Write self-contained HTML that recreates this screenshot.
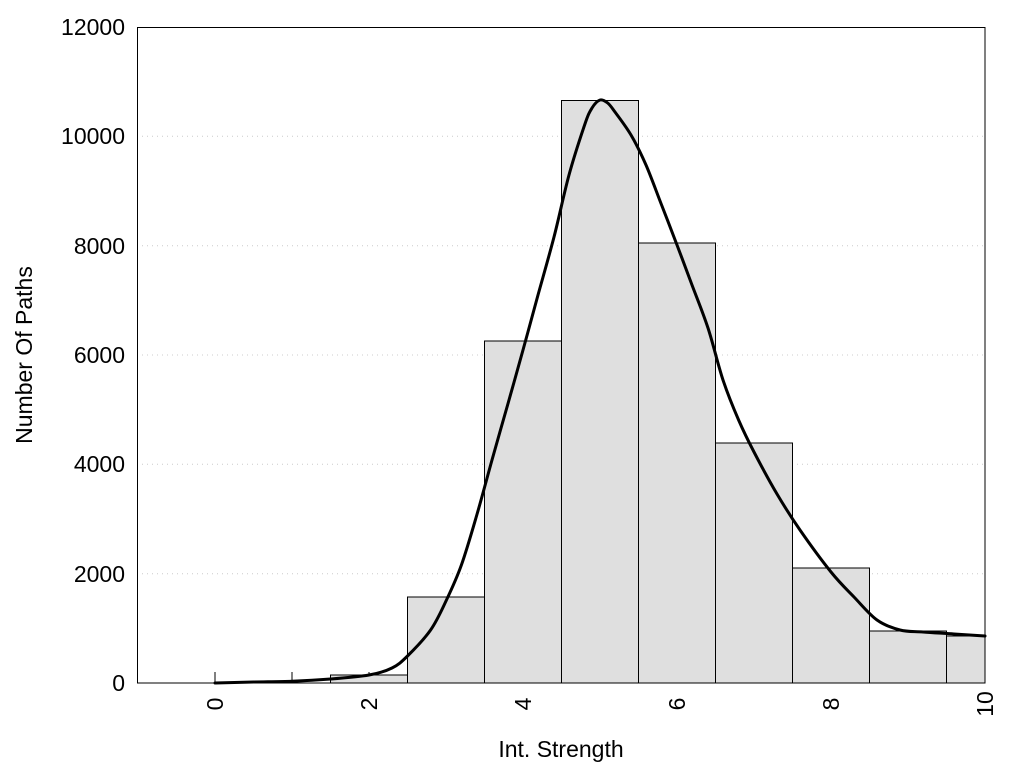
<!DOCTYPE html>
<html><head><meta charset="utf-8"><style>
html,body{margin:0;padding:0;background:#fff;}
svg{display:block;font-family:"Liberation Sans",Arial,sans-serif;}
</style></head><body>
<svg width="1024" height="768" viewBox="0 0 1024 768">
<rect width="1024" height="768" fill="#fff"/>
<g stroke="#ccc" stroke-width="1" stroke-dasharray="1,4">
<line x1="137" y1="573.7" x2="985" y2="573.7"/>
<line x1="137" y1="464.3" x2="985" y2="464.3"/>
<line x1="137" y1="355" x2="985" y2="355"/>
<line x1="137" y1="245.7" x2="985" y2="245.7"/>
<line x1="137" y1="136.3" x2="985" y2="136.3"/>
</g>
<g stroke="#000" stroke-width="1">
<line x1="215" y1="672" x2="215" y2="683"/>
<line x1="292" y1="672" x2="292" y2="683"/>
<line x1="369" y1="672" x2="369" y2="683"/>
</g>
<g fill="#dfdfdf" stroke="#000" stroke-width="1">
<rect x="330.5" y="675" width="77" height="8"/>
<rect x="407.5" y="597" width="77" height="86"/>
<rect x="484.5" y="341" width="77" height="342"/>
<rect x="561.5" y="100.5" width="77" height="582.5"/>
<rect x="638.5" y="243" width="77" height="440"/>
<rect x="715.5" y="443" width="77" height="240"/>
<rect x="792.5" y="568" width="77" height="115"/>
<rect x="869.5" y="631" width="77" height="52"/>
<rect x="946.5" y="636" width="38.5" height="47"/>
</g>
<path id="curve" fill="none" stroke="#000" stroke-width="3" stroke-linejoin="round" stroke-linecap="round" d="M215,683 C292,681 340,679 369,675 C400,665 420,640 446,600 C470,560 490,460 523,350 C550,260 570,110 600,100 C625,95 650,180 677,245 C700,300 710,360 740,420 C780,500 820,570 877,618 C910,640 940,630 985,636"/>
<rect x="137.5" y="27.5" width="847.5" height="655.5" fill="none" stroke="#000" stroke-width="1"/>
<g font-size="23" text-anchor="end" fill="#000">
<text x="125" y="691">0</text>
<text x="125" y="582">2000</text>
<text x="125" y="472">4000</text>
<text x="125" y="363">6000</text>
<text x="125" y="254">8000</text>
<text x="125" y="144">10000</text>
<text x="125" y="35">12000</text>
</g>
<g font-size="23" text-anchor="middle" fill="#000">
<text transform="translate(223,704) rotate(-90)" text-anchor="middle">0</text>
<text transform="translate(377,704) rotate(-90)" text-anchor="middle">2</text>
<text transform="translate(531,704) rotate(-90)" text-anchor="middle">4</text>
<text transform="translate(685,704) rotate(-90)" text-anchor="middle">6</text>
<text transform="translate(839,704) rotate(-90)" text-anchor="middle">8</text>
<text transform="translate(993,704) rotate(-90)" text-anchor="middle">10</text>
<text x="561" y="757">Int. Strength</text>
<text transform="translate(32,355) rotate(-90)" text-anchor="middle">Number Of Paths</text>
</g>
</svg>
<script>
(function(){
var pts=[[215,683],[253.5,682],[292,681.2],[330.5,679],[369,675],[392,668],[407.5,656],[430.6,630],[446,601],[461.4,565],[476.8,515],[492,460],[507.6,405],[523,350],[538,295],[554,237],[569,175],[584.6,125],[592,108],[600,100],[607.7,103],[615,112],[631,135],[646,165],[661.6,205],[677,245],[692,285],[708,328],[723,380],[738.6,420],[754,452],[777,494],[800,530],[831,572],[854,597],[877,620],[900,630],[923,632],[954,634],[985,636]];
var d="M"+pts[0][0]+","+pts[0][1];
for(var i=0;i<pts.length-1;i++){
var p0=pts[i-1]||pts[i],p1=pts[i],p2=pts[i+1],p3=pts[i+2]||p2;
var c1x=p1[0]+(p2[0]-p0[0])/6,c1y=p1[1]+(p2[1]-p0[1])/6;
var c2x=p2[0]-(p3[0]-p1[0])/6,c2y=p2[1]-(p3[1]-p1[1])/6;
d+=" C"+c1x.toFixed(1)+","+c1y.toFixed(1)+" "+c2x.toFixed(1)+","+c2y.toFixed(1)+" "+p2[0]+","+p2[1];
}
document.getElementById("curve").setAttribute("d",d);
})();
</script>
</body></html>
